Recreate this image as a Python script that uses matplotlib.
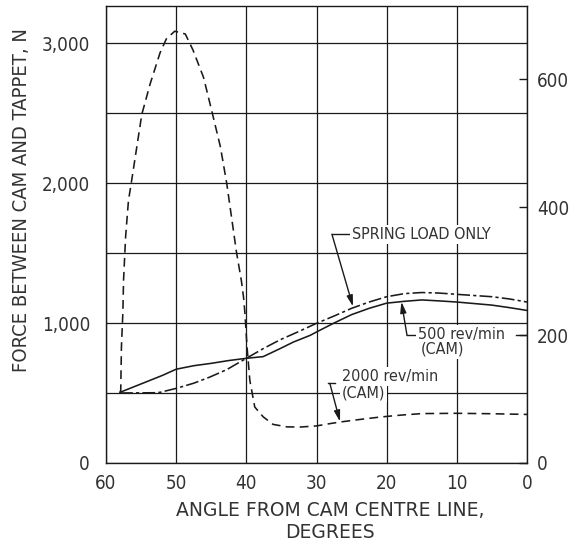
import matplotlib
matplotlib.use('Agg')
import matplotlib.pyplot as plt

# 2000 rev/min (cam) - dashed curve, angle in degrees, force in N
fast_deg = [58.0, 57.9, 57.8, 57.6, 57.5, 57.2, 56.8, 56.4, 54.9, 53.7, 52.3,
            51.4, 50.2, 48.7, 47.6, 46.1, 44.9, 43.7, 42.8, 41.4, 40.7, 40.4,
            40.2, 39.9, 39.5, 38.8, 37.6, 36.2, 34.2, 32.3, 30.0, 28.0, 26.6,
            24.0, 21.0, 18.0, 15.0, 10.0, 5.0, 0.0]
fast_force = [500, 520, 830, 1070, 1305, 1620, 1875, 2000, 2490, 2710, 2930,
              3030, 3085, 3065, 2950, 2755, 2510, 2260, 2000, 1505, 1300, 1185,
              1070, 830, 590, 400, 330, 276, 258, 257, 265, 282, 293,
              310, 328, 342, 353, 355, 352, 347]

# 500 rev/min (cam) - solid curve
slow_deg = [58, 55, 52, 50, 47.5, 45, 42.5, 40, 37.6, 35.2, 33.3, 30.9, 30,
            27.5, 25, 22.5, 20, 17.5, 15, 12.5, 10, 5, 2.5, 0]
slow_force = [505, 565, 625, 670, 695, 712, 732, 748, 760, 817, 864, 912, 936,
              1000, 1060, 1105, 1142, 1155, 1165, 1158, 1150, 1128, 1110, 1090]

# spring load only - dash-dot curve
spring_deg = [58, 53, 52.3, 50, 47.5, 45.2, 42.8, 40, 37.6, 35.2, 32.5, 30,
              27.5, 25, 22.5, 20, 17.5, 15, 12.5, 10, 5, 2.5, 0]
spring_force = [500, 502, 505, 533, 570, 614, 667, 748, 817, 880, 940, 998,
                1050, 1105, 1150, 1188, 1210, 1218, 1214, 1205, 1188, 1172, 1150]

x_ticks = [0, 10, 20, 30, 40, 50, 60]
y_ticks = [0, 500, 1000, 1500, 2000, 2500, 3000]
y_labels = ['0', '', '1,000', '', '2,000', '', '3,000']
right_ticks = [0, 200, 400, 600]
N_PER_UNIT = 4.571

plt.rcParams['font.family'] = ['DejaVu Sans Condensed', 'DejaVu Sans']
plt.rcParams['font.stretch'] = 'condensed'

INK = '#1a1a1a'
TXT = '#333333'
W, H = 583, 544

fig = plt.figure(figsize=(W / 100, H / 100), dpi=100)
ax = fig.add_axes([106 / W, 1 - 463 / H, (527 - 106) / W, (463 - 6) / H])
ax.set_xlim(60, 0)
ax.set_ylim(0, 3265)
ax.set_xticks(x_ticks)
ax.set_yticks(y_ticks)
ax.set_yticklabels(y_labels)
ax.grid(True, color=INK, lw=0.9)
ax.tick_params(length=0, labelsize=13.5, labelcolor=TXT)
ax.tick_params(axis='y', pad=11.5)
ax.tick_params(axis='x', pad=8)
for s in ax.spines.values():
    s.set_color(INK)
    s.set_linewidth(1.0)

ax.plot(fast_deg, fast_force, color=INK, lw=1.15, dashes=(5.5, 3.3))
ax.plot(slow_deg, slow_force, color=INK, lw=1.15)
ax.plot(spring_deg, spring_force, color=INK, lw=1.15, dashes=(8, 2, 2, 2))

ax2 = ax.twinx()
ax2.set_ylim(0, 3265 / N_PER_UNIT)
ax2.set_yticks(right_ticks)
ax2.tick_params(direction='in', length=6, width=1.0, color=INK,
                labelsize=13.5, labelcolor=TXT, pad=7)
for s in ax2.spines.values():
    s.set_visible(False)

# annotations with leaders
box = dict(fc='white', ec='none', pad=1.5)
arrow = dict(arrowstyle='-|>,head_length=0.65,head_width=0.18', color=INK,
             lw=1.0, shrinkA=0, shrinkB=0)
tkw = dict(fontsize=11.5, color=TXT, va='center', ha='left', bbox=box, zorder=4)

ax.text(24.9, 1630, 'SPRING LOAD ONLY', **tkw)
ax.plot([27.8, 25.1], [1634, 1634], color=INK, lw=1.0)
ax.annotate('', xy=(24.8, 1118), xytext=(27.8, 1634), arrowprops=arrow)

ax.text(15.5, 915, '500 rev/min', **tkw)
ax.text(15.2, 812, '(CAM)', **tkw)
ax.plot([17.1, 15.9], [912, 912], color=INK, lw=1.0)
ax.plot([1.6, 0], [200 * N_PER_UNIT] * 2, color=INK, lw=1.0)
ax.annotate('', xy=(17.9, 1152), xytext=(17.1, 912), arrowprops=arrow)

ax.text(26.4, 619, '2000 rev/min', **tkw)
ax.text(26.4, 503, '(CAM)', **tkw)
ax.plot([28.4, 27.4], [569, 569], color=INK, lw=1.0)
ax.annotate('', xy=(26.65, 296), xytext=(28.1, 569), arrowprops=arrow)

fig.text(22 / W, 1 - 200 / H, 'FORCE BETWEEN CAM AND TAPPET, N', rotation=90,
         ha='center', va='center', fontsize=14.5, color=TXT)
fig.text(330 / W, 1 - 521 / H, 'ANGLE FROM CAM CENTRE LINE,\nDEGREES',
         ha='center', va='center', multialignment='center', linespacing=1.2,
         fontsize=13.5, color=TXT, family='DejaVu Sans', stretch='normal')

fig.savefig('out.png', dpi=100)
